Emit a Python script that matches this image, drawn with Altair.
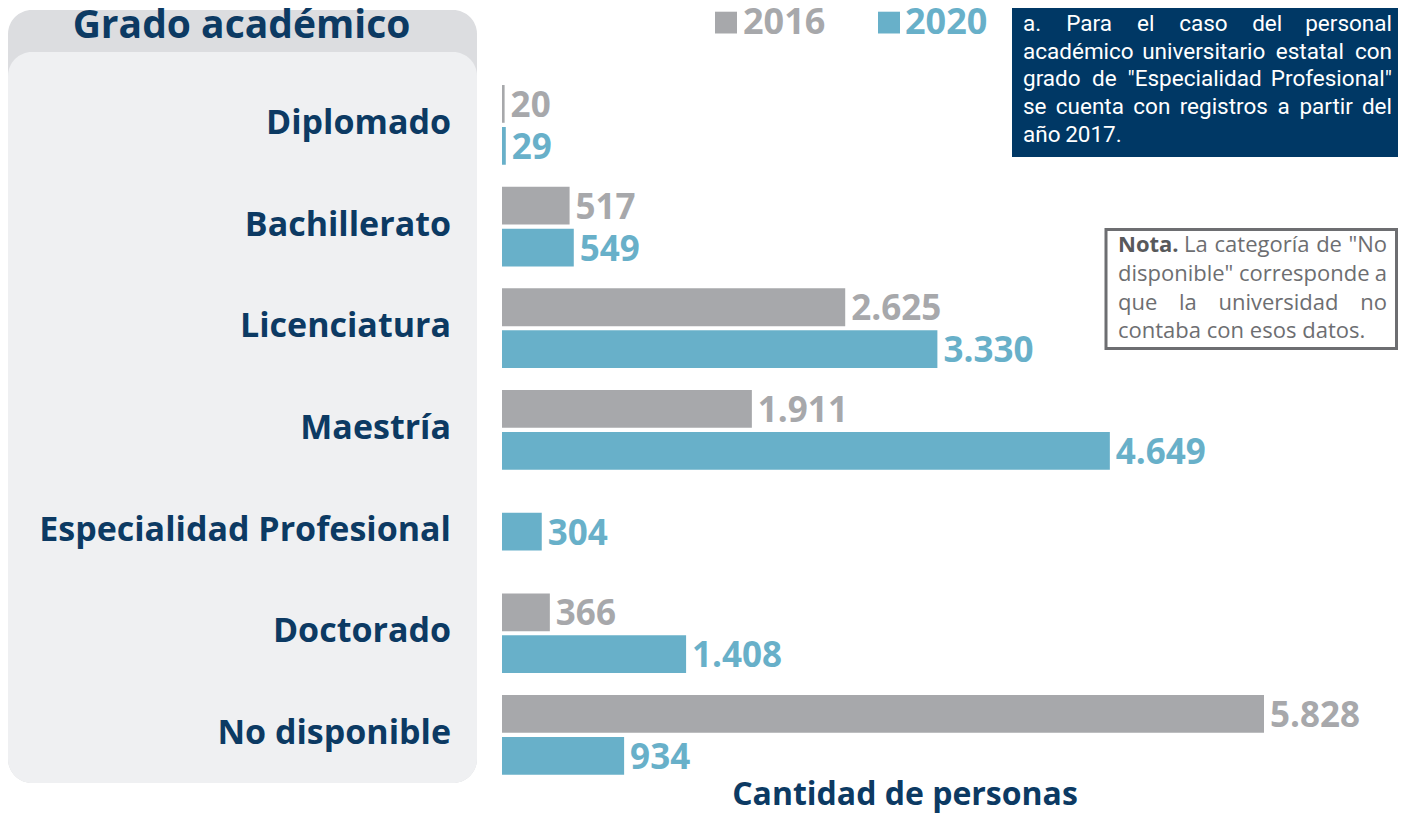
import altair as alt
import pandas as pd

# ---------------- data ----------------
categories = ["Diplomado", "Bachillerato", "Licenciatura", "Maestría",
              "Especialidad Profesional", "Doctorado", "No disponible"]
years = ["2016", "2020"]
values_2016 = [20, 517, 2625, 1911, None, 366, 5828]
values_2020 = [29, 549, 3330, 4649, 304, 1408, 934]
series_colors = ["#a7a8ab", "#68b0c9"]
title_text = "Grado académico"
x_title = "Cantidad de personas"
note_a_lines = ["a. Para el caso del personal",
                "académico universitario estatal con",
                "grado de \"Especialidad Profesional\"",
                "se cuenta con registros a partir del",
                "año 2017."]
note_b_lines = ["Nota. La categoría de \"No",
                "disponible\" corresponde a",
                "que la universidad no",
                "contaba con esos datos."]


def fmt(v):
    return f"{v:,}".replace(",", ".")


rows = []
for c, a, b in zip(categories, values_2016, values_2020):
    single = (a is None) or (b is None)
    for yr, v in zip(years, (a, b)):
        if v is not None:
            rows.append({"cat": c, "year": yr, "value": v, "label": fmt(v), "single": single})
df = pd.DataFrame(rows)
paired = df[~df["single"]]
single = df[df["single"]]

# ---------------- layout / style ----------------
W, H = 1390, 805
NAVY = "#0c3a63"
FONT = "Open Sans"
one = pd.DataFrame({"k": [0]})

xsc = alt.Scale(domain=[0, float(df["value"].max())], range=[494, 1256], nice=False, zero=True)
ysc = alt.Scale(domain=categories, range=[66.05, 777.75], paddingInner=0.216, paddingOuter=0.108)
osc = alt.Scale(domain=years, paddingInner=0.1, paddingOuter=0)
csc = alt.Scale(domain=years, range=series_colors)

X = alt.X("value:Q", scale=xsc, axis=None)
Y = alt.Y("cat:N", scale=ysc, axis=None)
YO = alt.YOffset("year:N", scale=osc)
C = alt.Color("year:N", scale=csc, legend=None)

# panel
panel_outer = alt.Chart(one).mark_rect(color="#dcdde0", cornerRadius=24).encode(
    x=alt.value(0), x2=alt.value(469), y=alt.value(2), y2=alt.value(775))
panel_body = alt.Chart(one).mark_rect(color="#eff0f2", cornerRadius=24).encode(
    x=alt.value(0), x2=alt.value(469), y=alt.value(44), y2=alt.value(775))
title = alt.Chart(one).mark_text(font=FONT, fontSize=39, fontWeight="bold", color=NAVY,
                                 align="center", baseline="alphabetic").encode(
    x=alt.value(233.5), y=alt.value(30), text=alt.value(title_text))

cat_labels = alt.Chart(pd.DataFrame({"cat": categories})).mark_text(
    font=FONT, fontSize=34, fontWeight="bold", color=NAVY, align="right",
    baseline="alphabetic", dy=9).encode(x=alt.value(443), y=Y, text="cat:N")

bars = alt.Chart(paired).mark_bar().encode(x=X, y=Y, yOffset=YO, color=C)
labels = alt.Chart(paired).mark_text(font=FONT, fontSize=35, fontWeight="bold", align="left",
                                     baseline="alphabetic", dx=6, dy=13).encode(
    x=X, y=Y, yOffset=YO, color=C, text="label:N")
sbars = alt.Chart(single).mark_bar(height=37.7).encode(x=X, y=Y, color=C)
slabels = alt.Chart(single).mark_text(font=FONT, fontSize=35, fontWeight="bold", align="left",
                                      baseline="alphabetic", dx=6, dy=13).encode(
    x=X, y=Y, color=C, text="label:N")

# legend
leg = []
for yr, col, rx, tx in zip(years, series_colors, [707, 870], [735, 897]):
    leg.append(alt.Chart(one).mark_rect(color=col).encode(
        x=alt.value(rx), x2=alt.value(rx + 22), y=alt.value(3.7), y2=alt.value(25.5)))
    leg.append(alt.Chart(one).mark_text(font=FONT, fontSize=36, fontWeight="bold", color=col,
                                        align="left", baseline="alphabetic").encode(
        x=alt.value(tx), y=alt.value(25.5), text=alt.value(yr)))

xtitle = alt.Chart(one).mark_text(font=FONT, fontSize=32, fontWeight="bold", color=NAVY,
                                  align="center", baseline="alphabetic").encode(
    x=alt.value(897), y=alt.value(796.5), text=alt.value(x_title))

# ---------------- notes (justified word placement) ----------------
ROBOTO = {' ': .248, '.': .263, '"': .32, 'a': .531, 'b': .547, 'c': .51, 'd': .55, 'e': .517,
          'f': .339, 'g': .547, 'h': .538, 'i': .237, 'j': .233, 'k': .495, 'l': .237, 'm': .855,
          'n': .539, 'o': .557, 'p': .547, 'q': .55, 'r': .331, 's': .503, 't': .32, 'u': .538,
          'v': .472, 'w': .733, 'x': .483, 'y': .461, 'z': .483, 'á': .531, 'é': .517,
          'í': .237, 'ñ': .539, 'E': .546, 'P': .63, 'N': .713, 'L': .538}
for d in "0123456789":
    ROBOTO[d] = .561
OPENS = {' ': .26, '.': .266, '"': .401, 'a': .556, 'b': .613, 'c': .479, 'd': .613, 'e': .561,
         'f': .339, 'g': .548, 'h': .614, 'i': .253, 'j': .253, 'k': .525, 'l': .253, 'm': .93,
         'n': .614, 'o': .604, 'p': .613, 'q': .613, 'r': .408, 's': .477, 't': .353, 'u': .614,
         'v': .501, 'w': .778, 'x': .524, 'y': .502, 'z': .477, 'á': .556, 'é': .561, 'í': .253,
         'ñ': .614, 'L': .531, 'N': .74}


def layout_words(lines, left, right, baselines, fs, table, bold_first=False):
    out = []
    for i, (line, yb) in enumerate(zip(lines, baselines)):
        words = line.split(" ")
        ws = []
        for j, w in enumerate(words):
            f = 1.07 if (bold_first and i == 0 and j == 0) else 1.0
            ws.append(sum(table.get(ch, .55) for ch in w) * fs * f)
        last = i == len(lines) - 1
        if last or len(words) == 1:
            gap = table[' '] * fs
        else:
            gap = (right - left - sum(ws)) / (len(words) - 1)
        x = left
        for j, (w, wd) in enumerate(zip(words, ws)):
            bold = bold_first and i == 0 and j == 0
            if j == 0:
                out.append(dict(px=left, py=yb, text=w, align="left", bold=bold))
            elif (not last) and j == len(words) - 1:
                out.append(dict(px=right, py=yb, text=w, align="right", bold=bold))
            else:
                out.append(dict(px=x + wd / 2, py=yb, text=w, align="center", bold=bold))
            x += wd + gap
    return pd.DataFrame(out)


def word_layers(data, font, fs, color, weight="normal"):
    layers = []
    for al in ["left", "center", "right"]:
        sub = data[data["align"] == al]
        if len(sub):
            layers.append(alt.Chart(sub).mark_text(font=font, fontSize=fs, color=color,
                                                   fontWeight=weight, align=al,
                                                   baseline="alphabetic").encode(
                x=alt.X("px:Q", scale=None, axis=None),
                y=alt.Y("py:Q", scale=None, axis=None),
                text="text:N"))
    return layers


NOTE_A_FONT = "Roboto"
NOTE_A_SIZE = 22.5
box_a = alt.Chart(one).mark_rect(color="#003865").encode(
    x=alt.value(1004), x2=alt.value(1390), y=alt.value(0), y2=alt.value(149))
words_a = layout_words(note_a_lines, 1015, 1384, [22.7, 50.5, 78.3, 106, 133.7],
                       NOTE_A_SIZE, ROBOTO)

box_b = alt.Chart(one).mark_rect(fill="white", stroke="#6d6e71", strokeWidth=3).encode(
    x=alt.value(1098), x2=alt.value(1388.5), y=alt.value(221.5), y2=alt.value(340.5))
words_b = layout_words(note_b_lines, 1110, 1379, [244.3, 273, 301.7, 330.3], 22, OPENS,
                       bold_first=True)

layers = [panel_outer, panel_body, title, cat_labels, bars, labels, sbars, slabels] + leg + [xtitle, box_a]
layers += word_layers(words_a, NOTE_A_FONT, NOTE_A_SIZE, "white")
layers.append(box_b)
layers += word_layers(words_b[~words_b["bold"]], FONT, 22, "#6d6e71")
layers += word_layers(words_b[words_b["bold"]], FONT, 22, "#58595b", "bold")

chart = alt.layer(*layers).resolve_scale(
    x="independent", y="independent", color="independent"
).properties(
    width=W, height=H, padding=0, autosize=alt.AutoSizeParams(type="none")
).configure_view(strokeWidth=0)

chart.save("out.html", embed_options={"renderer": "svg", "actions": False})
